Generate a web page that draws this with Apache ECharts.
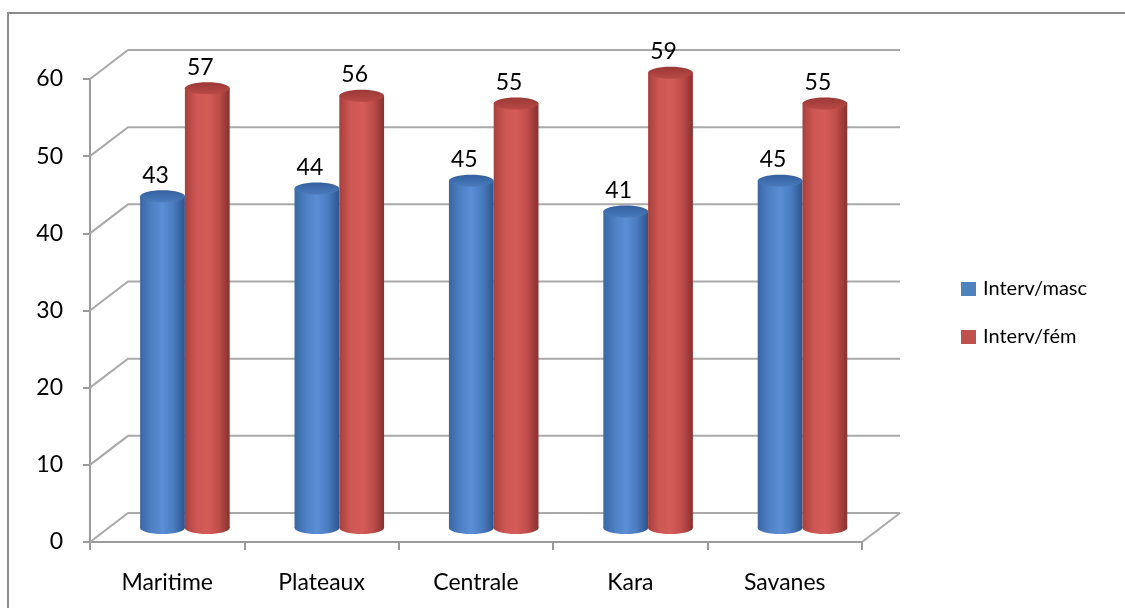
<!DOCTYPE html>
<html>
<head>
<meta charset="utf-8">
<script src="https://cdn.jsdelivr.net/npm/echarts@6/dist/echarts.min.js"></script>
<style>
  html, body { margin: 0; padding: 0; background: #ffffff; }
  #chart { width: 1125px; height: 608px; }
</style>
</head>
<body>
<div id="chart"></div>
<script>
// Interventions by region, split by sex
const categories = ['Maritime', 'Plateaux', 'Centrale', 'Kara', 'Savanes'];
const mascValues = [43, 44, 45, 41, 45];
const femValues = [57, 56, 55, 59, 55];
const yTicks = [0, 10, 20, 30, 40, 50, 60];
const seriesNames = ['Interv/masc', 'Interv/fém'];

// Oblique projection of the chart box (pixels per full depth)
const WALL_DX = 38, WALL_DY = -29;
// Cylinders sit roughly half way into the box
const CYL_DX = 17.7, CYL_DY = -14;
const FONT = 'Lato, "Noto Sans", sans-serif';

const palettes = [
  {
    body: ['#3a67a3', '#4d7fc3', '#5a8fd6', '#4a7bbf', '#2d548e'],
    top: ['#34609c', '#4a7bbd'],
    legend: '#4f81bd'
  },
  {
    body: ['#a8403d', '#cc5753', '#d55c58', '#bf4e4b', '#88312e'],
    top: ['#9a3936', '#b94945'],
    legend: '#c0504d'
  }
];

function hGrad(colors) {
  const n = colors.length - 1;
  return {
    type: 'linear', x: 0, y: 0, x2: 1, y2: 0,
    colorStops: colors.map((c, i) => ({ offset: i / n, color: c }))
  };
}

function cylinderRenderer(side) {
  const pal = palettes[side];
  return function (params, api) {
    const idx = api.value(0);
    const val = api.value(1);
    const base = api.coord([idx, 0]);
    const top = api.coord([idx, val]);
    const bw = api.size([1, 0])[0];
    const w = bw * 0.29;
    const rx = w / 2, ry = 6;
    const pairCenter = base[0] + CYL_DX;
    const cx = side === 0 ? pairCenter - rx : pairCenter + rx;
    const yb = base[1] + CYL_DY;
    const yt = top[1] + CYL_DY;
    return {
      type: 'group',
      children: [
        {
          type: 'ellipse',
          shape: { cx: cx, cy: yb, rx: rx, ry: ry },
          style: { fill: hGrad(pal.body) }
        },
        {
          type: 'rect',
          shape: { x: cx - rx, y: yt, width: w, height: yb - yt },
          style: { fill: hGrad(pal.body) }
        },
        {
          type: 'ellipse',
          shape: { cx: cx, cy: yt, rx: rx, ry: ry },
          style: {
            fill: {
              type: 'linear', x: 0, y: 0, x2: 0, y2: 1,
              colorStops: [
                { offset: 0, color: pal.top[0] },
                { offset: 1, color: pal.top[1] }
              ]
            }
          }
        },
        {
          type: 'text',
          style: {
            text: String(val),
            x: cx - 7,
            y: yt - 21,
            align: 'center',
            verticalAlign: 'middle',
            fontSize: 23,
            fontFamily: FONT,
            fill: '#000000'
          }
        }
      ]
    };
  };
}

// Side wall, back wall and floor outline drawn from the value axis ticks
function wallRenderer(params, api) {
  const v = api.value(0);
  const first = api.coord([0, v]);
  const last = api.coord([categories.length - 1, v]);
  const bw = api.size([1, 0])[0];
  const left = first[0] - bw / 2;
  const right = last[0] + bw / 2;
  const y = first[1];
  const children = [{
    type: 'polyline',
    shape: {
      points: [[left, y], [left + WALL_DX, y + WALL_DY], [right + WALL_DX, y + WALL_DY]]
    },
    style: { stroke: '#a9a9a9', lineWidth: 2, fill: null }
  }];
  if (v === 0) {
    children.push({
      type: 'line',
      shape: { x1: right, y1: y, x2: right + WALL_DX, y2: y + WALL_DY },
      style: { stroke: '#a9a9a9', lineWidth: 2 }
    });
  }
  return { type: 'group', children: children };
}

const chart = echarts.init(document.getElementById('chart'), null, { renderer: 'canvas' });

chart.setOption({
  animation: false,
  backgroundColor: '#ffffff',
  graphic: [{
    type: 'rect',
    shape: { x: 8, y: 13, width: 1140, height: 620 },
    style: { fill: null, stroke: '#8c8c8c', lineWidth: 2 },
    silent: true
  }],
  legend: {
    orient: 'vertical',
    left: 956,
    top: 274,
    itemWidth: 15,
    itemHeight: 14,
    itemGap: 28,
    icon: 'rect',
    textStyle: { fontSize: 20, fontFamily: FONT, color: '#000000', padding: [0, 0, 0, 2] },
    data: seriesNames
  },
  grid: { left: 90, top: 79, width: 772, height: 463, containLabel: false },
  xAxis: {
    type: 'category',
    data: categories,
    boundaryGap: true,
    axisLine: { lineStyle: { color: '#9a9a9a', width: 2 } },
    axisTick: { show: true, length: 8, lineStyle: { color: '#9a9a9a', width: 2 } },
    axisLabel: { margin: 29, fontSize: 23, fontFamily: FONT, color: '#000000' },
    splitLine: { show: false }
  },
  yAxis: {
    type: 'value',
    min: 0,
    max: 60,
    interval: 10,
    data: yTicks,
    axisLine: { show: true, lineStyle: { color: '#9a9a9a', width: 2 } },
    axisTick: { show: true, length: 7, lineStyle: { color: '#9a9a9a', width: 2 } },
    axisLabel: { margin: 27, fontSize: 23, fontFamily: FONT, color: '#000000' },
    splitLine: { show: false }
  },
  series: [
    {
      type: 'custom',
      name: 'walls',
      silent: true,
      z: 1,
      renderItem: wallRenderer,
      encode: { y: 0 },
      data: yTicks.map(v => [v])
    },
    {
      type: 'custom',
      name: seriesNames[0],
      z: 3,
      itemStyle: { color: palettes[0].legend },
      renderItem: cylinderRenderer(0),
      encode: { x: 0, y: 1 },
      data: mascValues.map((v, i) => [i, v])
    },
    {
      type: 'custom',
      name: seriesNames[1],
      z: 4,
      itemStyle: { color: palettes[1].legend },
      renderItem: cylinderRenderer(1),
      encode: { x: 0, y: 1 },
      data: femValues.map((v, i) => [i, v])
    }
  ]
});
</script>
</body>
</html>
